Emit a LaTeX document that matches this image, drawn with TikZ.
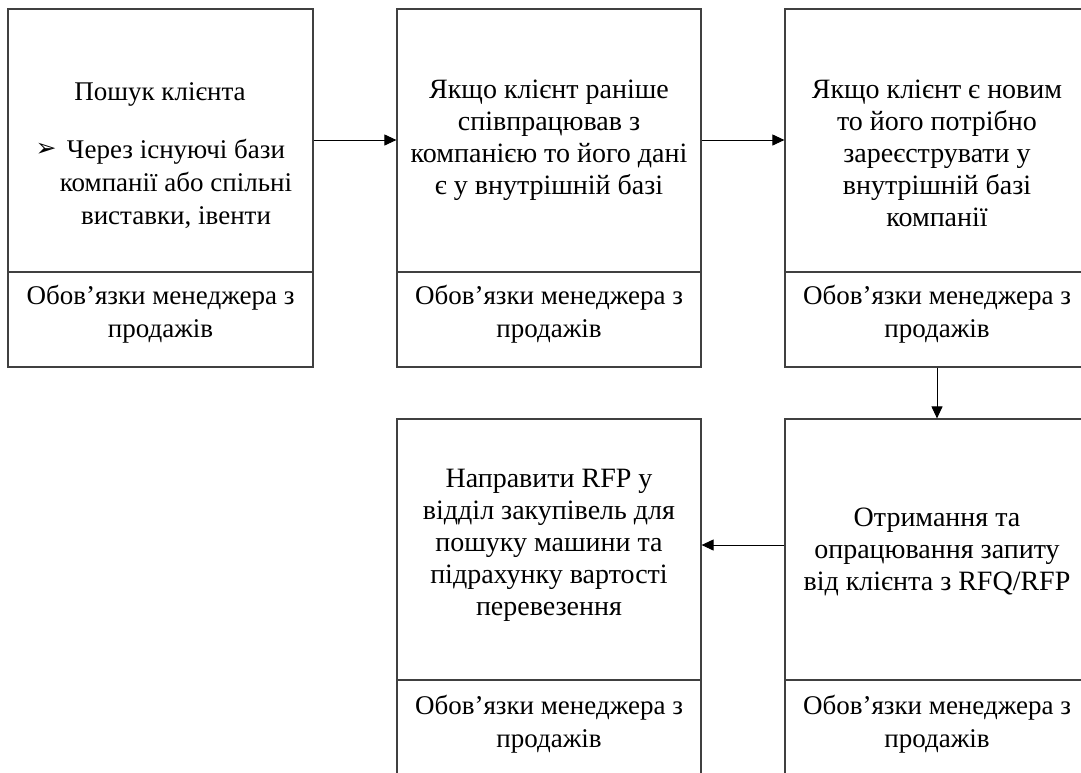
\documentclass[tikz,border=0pt]{standalone}
\usepackage{fontspec}
\setmainfont{Liberation Serif}
\newfontfamily\symfont{DejaVu Sans}
\usetikzlibrary{arrows.meta}
\definecolor{edge}{HTML}{404040}
\newcommand\boxlines[1]{\parbox[t]{300pt}{\centering #1}}
\tikzset{
  box/.style={draw=edge, line width=1.2pt, rectangle, inner sep=0pt},
  divider/.style={draw=edge, line width=1.2pt},
  txt/.style={anchor=base, inner sep=0pt, font=\fontsize{28}{32}\selectfont},
  txtsmall/.style={anchor=base, inner sep=0pt, font=\fontsize{27}{33}\selectfont},
  arr/.style={draw=black, line width=1pt, -{Triangle[length=12pt,width=11pt]}}
}
\begin{document}
\begin{tikzpicture}[x=1pt,y=-1pt]
\useasboundingbox (0,0) rectangle (1081,772);
\clip (0,0) rectangle (1081,772);
% boxes
\node[box, minimum width=305pt, minimum height=358pt] (b1) at (160.5,188) {};
\node[box, minimum width=304pt, minimum height=358pt] (b2) at (549,188) {};
\node[box, minimum width=305pt, minimum height=358pt] (b3) at (937.5,188) {};
\node[box, minimum width=304pt, minimum height=380pt] (b4) at (549,609) {};
\node[box, minimum width=305pt, minimum height=380pt] (b5) at (937.5,609) {};
% divider coordinates
\coordinate (dt) at (0,272);
\coordinate (db) at (0,680);
\draw[divider] (b1.west |- dt) -- (b1.east |- dt);
\draw[divider] (b2.west |- dt) -- (b2.east |- dt);
\draw[divider] (b3.west |- dt) -- (b3.east |- dt);
\draw[divider] (b4.west |- db) -- (b4.east |- db);
\draw[divider] (b5.west |- db) -- (b5.east |- db);
% texts
\node[txtsmall] (t1a) at (160,100) {Пошук клієнта};
\node[inner sep=0pt, font=\symfont\fontsize{25}{25}\selectfont] (t1bul) at (46,150) {➢};
\node[txtsmall] (t1b) at (176,158) {\boxlines{Через існуючі бази\\компанії або спільні\\виставки, івенти}};
\node[txt] (t2) at (549,98) {\boxlines{Якщо клієнт раніше\\співпрацював з\\компанією то його дані\\є у внутрішній базі}};
\node[txt] (t3) at (937,98) {\boxlines{Якщо клієнт є новим\\то його потрібно\\зареєструвати у\\внутрішній базі\\компанії}};
\node[txt] (t4) at (549,487) {\boxlines{Направити RFP у\\відділ закупівель для\\пошуку машини та\\підрахунку вартості\\перевезення}};
\node[txt] (t5) at (937,526) {\boxlines{Отримання та\\опрацювання запиту\\від клієнта з RFQ/RFP}};
\node[txtsmall] (r1) at (160.5,304) {\boxlines{Обов’язки менеджера з\\продажів}};
\node[txtsmall] (r2) at (549,304) {\boxlines{Обов’язки менеджера з\\продажів}};
\node[txtsmall] (r3) at (937,304) {\boxlines{Обов’язки менеджера з\\продажів}};
\node[txtsmall] (r4) at (549,714) {\boxlines{Обов’язки менеджера з\\продажів}};
\node[txtsmall] (r5) at (937,714) {\boxlines{Обов’язки менеджера з\\продажів}};
% connectors
\coordinate (ya) at (0,140);
\coordinate (yb) at (0,545);
\coordinate (xc) at (937,0);
\draw[arr] (b1.east |- ya) -- (b2.west |- ya);
\draw[arr] (b2.east |- ya) -- (b3.west |- ya);
\draw[arr] (b3.south -| xc) -- (b5.north -| xc);
\draw[arr] (b5.west |- yb) -- (b4.east |- yb);
\end{tikzpicture}
\end{document}
